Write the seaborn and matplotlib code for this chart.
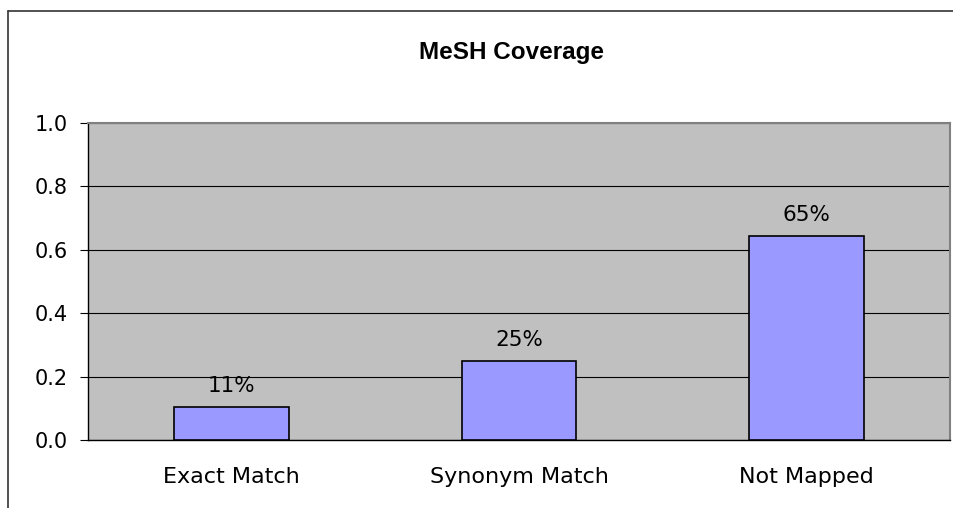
import matplotlib
matplotlib.use("Agg")
import matplotlib.pyplot as plt
import seaborn as sns
import pandas as pd
from matplotlib.lines import Line2D

categories = ["Exact Match", "Synonym Match", "Not Mapped"]
coverage = [0.105, 0.25, 0.645]
labels = ["11%", "25%", "65%"]
yticks = [0.0, 0.2, 0.4, 0.6, 0.8, 1.0]

sns.set_style("white")
plt.rcParams['font.family'] = ['DejaVu Sans']
plt.rcParams['text.color'] = 'black'
plt.rcParams['xtick.color'] = 'black'
plt.rcParams['ytick.color'] = 'black'

df = pd.DataFrame({"category": categories, "coverage": coverage})

fig = plt.figure(figsize=(9.54, 5.08), dpi=100)
ax = fig.add_axes([88/954, 68/508, 862/954, 317/508])
ax.set_facecolor('#C0C0C0')

sns.barplot(data=df, x="category", y="coverage", color='#9999FF', saturation=1,
            edgecolor='black', linewidth=1.2, width=0.4, ax=ax, zorder=3)

for i, (v, t) in enumerate(zip(coverage, labels)):
    ax.text(i, v + 0.047, t, ha='center', va='baseline', fontsize=15.5,
            color='black', zorder=4)

ax.set_ylim(0, 1.0)
ax.set_xlim(-0.5, 2.5)
ax.set_yticks(yticks)
ax.set_yticklabels([f"{y:.1f}" for y in yticks], fontsize=15)
ax.yaxis.grid(True, color='black', linewidth=0.8, zorder=1)
ax.set_axisbelow(True)

ax.set_xticks(range(3))
ax.set_xticklabels(categories, fontsize=16)
ax.set_xticks([-0.5, 0.5, 1.5, 2.5], minor=True)
ax.tick_params(axis='x', which='major', length=0, pad=19.5)
ax.tick_params(axis='x', which='minor', length=6, color='black', direction='out')
ax.tick_params(axis='y', length=6, color='black', direction='out', pad=8.4, left=True)
ax.set_xlabel("")
ax.set_ylabel("")

for s in ['top', 'right']:
    ax.spines[s].set_color('#808080')
    ax.spines[s].set_linewidth(1.5)
for s in ['left', 'bottom']:
    ax.spines[s].set_color('black')
    ax.spines[s].set_linewidth(1.0)

fig.text(512/954, 1 - 52/508, "MeSH Coverage", ha='center', va='center',
         fontsize=17.5, fontweight='bold', color='black', family='Liberation Sans')

# chart frame (cropped on right and bottom)
fig.add_artist(Line2D([8/954, 1.0], [1 - 11/508, 1 - 11/508], color='#333333', linewidth=1.2,
                      transform=fig.transFigure))
fig.add_artist(Line2D([8/954, 8/954], [0, 1 - 11/508], color='#333333', linewidth=1.2,
                      transform=fig.transFigure))

fig.savefig("out.png", dpi=100)
